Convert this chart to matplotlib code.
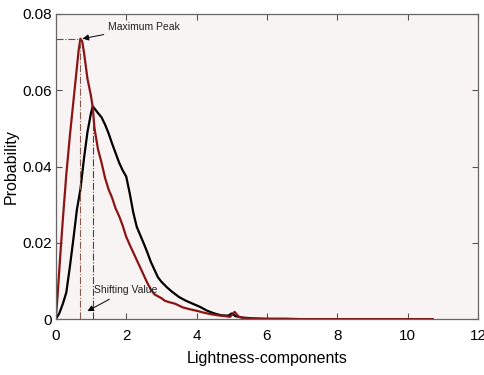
import matplotlib.pyplot as plt

plt.rcParams['font.family'] = ['Liberation Sans', 'DejaVu Sans']

# red curve (after shifting)
red_x = [0, 0.05, 0.13, 0.2, 0.3, 0.4, 0.5, 0.6, 0.65, 0.7, 0.75, 0.8, 0.9, 1.0, 1.05,
         1.1, 1.2, 1.3, 1.4, 1.5, 1.6, 1.7, 1.8, 1.9, 2.0, 2.1, 2.2, 2.3, 2.4, 2.5, 2.6,
         2.7, 2.8, 2.9, 3.0, 3.1, 3.2, 3.4, 3.6, 3.8, 4.0, 4.2, 4.4, 4.6, 4.8, 4.95,
         5.08, 5.2, 5.4, 5.6, 6.0, 7.0, 8.0, 9.0, 10.0, 10.7]
red_y = [0, 0.006, 0.017, 0.026, 0.038, 0.048, 0.057, 0.066, 0.0705, 0.0735, 0.0728, 0.070,
         0.063, 0.0585, 0.0555, 0.050, 0.0445, 0.041, 0.037, 0.034, 0.0318, 0.029, 0.027,
         0.0245, 0.0216, 0.0195, 0.0175, 0.0155, 0.0135, 0.0115, 0.0095, 0.0078, 0.0065,
         0.006, 0.0055, 0.0048, 0.0045, 0.004, 0.0031, 0.0026, 0.0022, 0.0017, 0.0013,
         0.001, 0.0008, 0.0006, 0.0019, 0.0006, 0.0002, 0.0001, 0.0, 0.0, 0.0, 0.0, 0.0, 0.0]

# black curve (original)
blk_x = [0, 0.1, 0.2, 0.3, 0.4, 0.5, 0.6, 0.7, 0.8, 0.9, 1.0, 1.05, 1.1, 1.2, 1.3, 1.4,
         1.5, 1.6, 1.7, 1.8, 1.9, 2.0, 2.1, 2.2, 2.3, 2.4, 2.5, 2.6, 2.7, 2.8, 2.9, 3.0,
         3.15, 3.3, 3.5, 3.7, 3.9, 4.1, 4.3, 4.5, 4.7, 4.9, 5.0, 5.1, 5.3, 5.6, 6.0, 6.5,
         7.0, 8.0, 9.0, 10.0, 10.7]
blk_y = [0, 0.0015, 0.004, 0.007, 0.0137, 0.021, 0.0287, 0.034, 0.042, 0.049, 0.054,
         0.0558, 0.0552, 0.054, 0.0529, 0.051, 0.0487, 0.046, 0.0435, 0.041, 0.039, 0.0374,
         0.033, 0.028, 0.0242, 0.022, 0.0198, 0.0175, 0.015, 0.013, 0.011, 0.0098, 0.0084,
         0.0072, 0.0058, 0.0048, 0.004, 0.0032, 0.0022, 0.0015, 0.001, 0.0009, 0.0015,
         0.0008, 0.0004, 0.0002, 0.0001, 0.0001, 0.0, 0.0, 0.0, 0.0, 0.0]

peak_x, peak_y = 0.7, 0.0735
shift_x, shift_y = 1.05, 0.0555

fig = plt.figure(figsize=(4.85, 3.75), dpi=100)
ax = fig.add_axes([0.115, 0.149, 0.871, 0.814])
ax.set_facecolor('#f8f4f3')

ax.plot(blk_x, blk_y, color='black', lw=1.6)
ax.plot(red_x, red_y, color='#8b1414', lw=1.6)

ax.plot([0, peak_x], [peak_y, peak_y], color='#555555', lw=0.8, ls='-.')
ax.plot([peak_x, peak_x], [0, peak_y], color='#8a5a50', lw=0.8, ls='-.')
ax.plot([shift_x, shift_x], [0, shift_y], color='#444444', lw=0.8, ls='-.')

ax.annotate('Maximum Peak', xy=(peak_x + 0.06, peak_y), xytext=(1.48, 0.0766),
            fontsize=7.5, va='center', color='#222222',
            arrowprops=dict(arrowstyle='-|>', color='black', lw=0.7,
                            shrinkA=1, shrinkB=0, mutation_scale=9))
ax.annotate('Shifting Value', xy=(0.9, 0.0021), xytext=(1.1, 0.0076),
            fontsize=7.5, va='center', color='#222222',
            arrowprops=dict(arrowstyle='-|>', color='black', lw=0.7,
                            shrinkA=2, shrinkB=0, mutation_scale=9))

ax.set_xlim(0, 12)
ax.set_ylim(0, 0.08)
ax.set_xticks([0, 2, 4, 6, 8, 10, 12])
ax.set_yticks([0, 0.02, 0.04, 0.06, 0.08])
ax.set_yticklabels(['0', '0.02', '0.04', '0.06', '0.08'])
ax.tick_params(direction='in', top=True, right=True, labelsize=11,
               length=4, color='#555555', width=0.8)
ax.tick_params(axis='x', pad=7)
ax.tick_params(axis='y', pad=3)
for s in ax.spines.values():
    s.set_color('#666666')
    s.set_linewidth(0.9)

ax.set_xlabel('Lightness-components', fontsize=11.5, labelpad=6)
ax.set_ylabel('Probability', fontsize=11.5, labelpad=2)

fig.savefig('out.png')
